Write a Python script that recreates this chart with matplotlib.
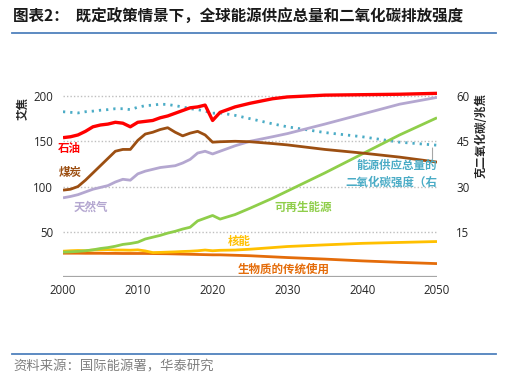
import matplotlib
matplotlib.use("Agg")
import matplotlib.pyplot as plt
from matplotlib.lines import Line2D

plt.rcParams['font.family'] = ['Noto Sans CJK SC', 'DejaVu Sans']

years = [2000, 2001, 2002, 2003, 2004, 2005, 2006, 2007, 2008, 2009, 2010,
         2011, 2012, 2013, 2014, 2015, 2016, 2017, 2018, 2019, 2020, 2021,
         2023, 2025, 2028, 2030, 2035, 2040, 2045, 2050]

oil = [154, 155, 157, 161, 166, 168, 169, 171, 170, 166, 171,
       172, 173, 176, 178, 181, 184, 187, 188, 190, 173, 182,
       188, 192, 197, 199, 201, 201.5, 202, 203]
coal = [96, 97, 100, 107, 115, 123, 131, 139, 141, 141, 151,
        158, 160, 163, 165, 160, 156, 159, 161, 157, 149, 149.5,
        150, 149.5, 147.5, 146, 141, 137, 132.5, 127]
gas = [87.5, 89, 91, 94, 97, 99, 101, 105, 108, 107, 114,
       117, 119, 121, 122, 123, 126, 130, 137, 139, 136, 139,
       145, 150, 155, 158.5, 169, 180, 191, 198.5]
renew = [27.5, 27.8, 28.3, 29, 30, 31.5, 32.5, 34, 36, 37, 38.5,
         42, 44, 46, 48.5, 50.5, 53, 55, 62, 65, 68, 64,
         69, 76, 87, 95, 115, 136, 157, 176]
nuclear = [28.5, 29, 29.3, 29, 29.8, 30, 30.2, 29.8, 29.8, 29.6, 30,
           28.8, 27, 27.2, 27.5, 27.8, 28.2, 28.5, 29, 29.8, 29, 29.5,
           29.8, 30.7, 32.5, 33.7, 35.5, 37.2, 38.2, 39.2]
biomass = [26.3, 26.3, 26.3, 26.2, 26.2, 26.2, 26.1, 26.1, 26, 26, 26,
           26, 25.9, 25.8, 25.7, 25.5, 25.3, 25.1, 24.9, 24.7, 24.5, 24.5,
           24, 23.5, 22.3, 21.5, 19.8, 17.8, 16.2, 14.8]
co2_intensity = [54.8, 54.6, 54.4, 54.8, 55.0, 55.3, 55.5, 55.8, 55.8, 55.5, 56.3,
                 56.8, 57.0, 57.3, 57.2, 56.8, 56.4, 55.8, 55.5, 55.0, 54.3, 54.4,
                 53.6, 52.5, 50.8, 49.8, 47.9, 46.5, 44.7, 43.7]

left_ticks = [50, 100, 150, 200]
right_ticks = [15, 30, 45, 60]
x_ticks = [2000, 2010, 2020, 2030, 2040, 2050]

title = "图表2：  既定政策情景下，全球能源供应总量和二氧化碳排放强度"
source = "资料来源：国际能源署，华泰研究"

C_OIL = "#ff0000"
C_COAL = "#9c4f12"
C_GAS = "#b4a7d0"
C_REN = "#8fce4a"
C_NUC = "#ffc000"
C_BIO = "#e46c0a"
C_CO2 = "#4bacc6"

W, H = 510, 390
fig = plt.figure(figsize=(W / 100, H / 100), dpi=100)

def fx(px):
    return px / W

def fy(py):
    return 1 - py / H

ax = fig.add_axes([fx(63), fy(277), fx(437) - fx(63), fy(87) - fy(277)])
ax2 = ax.twinx()
ax.set_zorder(ax2.get_zorder() + 1)
ax.patch.set_visible(False)

ax.set_xlim(2000, 2050)
ax.set_ylim(0, 210)
ax2.set_ylim(0, 63)

for v in left_ticks:
    ax.axhline(v, color="#bfbfbf", lw=1.0, ls=(0, (1, 1.5)), zorder=0)
ax.axhline(0, color="#a6a6a6", lw=1.6, zorder=1)

ax.plot(years, biomass, color=C_BIO, lw=2.0, solid_capstyle="butt")
ax.plot(years, nuclear, color=C_NUC, lw=2.0, solid_capstyle="butt")
ax.plot(years, renew, color=C_REN, lw=2.0, solid_capstyle="butt")
ax.plot(years, gas, color=C_GAS, lw=2.0, solid_capstyle="butt")
ax.plot(years, coal, color=C_COAL, lw=2.0, solid_capstyle="butt")
ax.plot(years, oil, color=C_OIL, lw=2.4, solid_capstyle="butt")
ax2.plot(years, co2_intensity, color=C_CO2, lw=2.0, ls=(0, (0.8, 1.8)))

for a in (ax, ax2):
    for s in a.spines.values():
        s.set_visible(False)

tick_font = ["Open Sans", "DejaVu Sans"]
ax.set_xticks(x_ticks)
ax.set_xticklabels([str(t) for t in x_ticks], fontsize=8.3, family=tick_font, color="#262626")
ax.set_yticks(left_ticks)
ax.set_yticklabels([str(t) for t in left_ticks], fontsize=8.3, family=tick_font, color="#262626")
ax2.set_yticks(right_ticks)
ax2.set_yticklabels([str(t) for t in right_ticks], fontsize=8.3, family=tick_font, color="#262626")
ax.tick_params(axis="both", length=0)
ax.tick_params(axis="y", pad=7)
ax.tick_params(axis="x", pad=5)
ax2.tick_params(axis="y", length=0, pad=14)

lab = dict(fontsize=8.3, fontweight="bold", va="center")
ax.text(2000.8, 142, "石油", color=C_OIL, ha="center", clip_on=False, **lab)
ax.text(2000.9, 116, "煤炭", color=C_COAL, ha="center", clip_on=False, **lab)
ax.text(2001.4, 77, "天然气", color=C_GAS, ha="left", **lab)
ax.text(2032.1, 77, "可再生能源", color=C_REN, ha="center", **lab)
ax.text(2023.5, 39, "核能", color=C_NUC, ha="center", **lab)
ax.text(2029.5, 9, "生物质的传统使用", color=C_BIO, ha="center", **lab)
ax.text(2050, 123, "能源供应总量的", color=C_CO2, ha="right", **lab)
ax.text(2050, 104.5, "二氧化碳强度（右", color=C_CO2, ha="right", **lab)
ax2.annotate("", xy=(2049.4, co2_intensity[-1]), xytext=(2049.4, 38.2),
             arrowprops=dict(arrowstyle="-", color="#a6a6a6", lw=0.8))

fig.text(fx(23), fy(109), "艾焦", rotation=90, ha="center", va="center",
         fontsize=8.3, fontweight="bold", color="#262626")
fig.text(fx(481), fy(135), "克二氧化碳/兆焦", rotation=90, ha="center", va="center",
         fontsize=8.3, fontweight="bold", color="#262626")

fig.text(fx(13), fy(17), title, ha="left", va="center", fontsize=11.2,
         fontweight="bold", color="#1a1a1a")
fig.add_artist(Line2D([fx(12), fx(496)], [fy(33), fy(33)], color="#4f81bd", lw=1.3))
fig.add_artist(Line2D([fx(12), fx(496)], [fy(354), fy(354)], color="#4f81bd", lw=1.3))
fig.text(fx(13), fy(366), source, ha="left", va="center", fontsize=9.6, color="#808080")

fig.savefig("out.png", dpi=100)
